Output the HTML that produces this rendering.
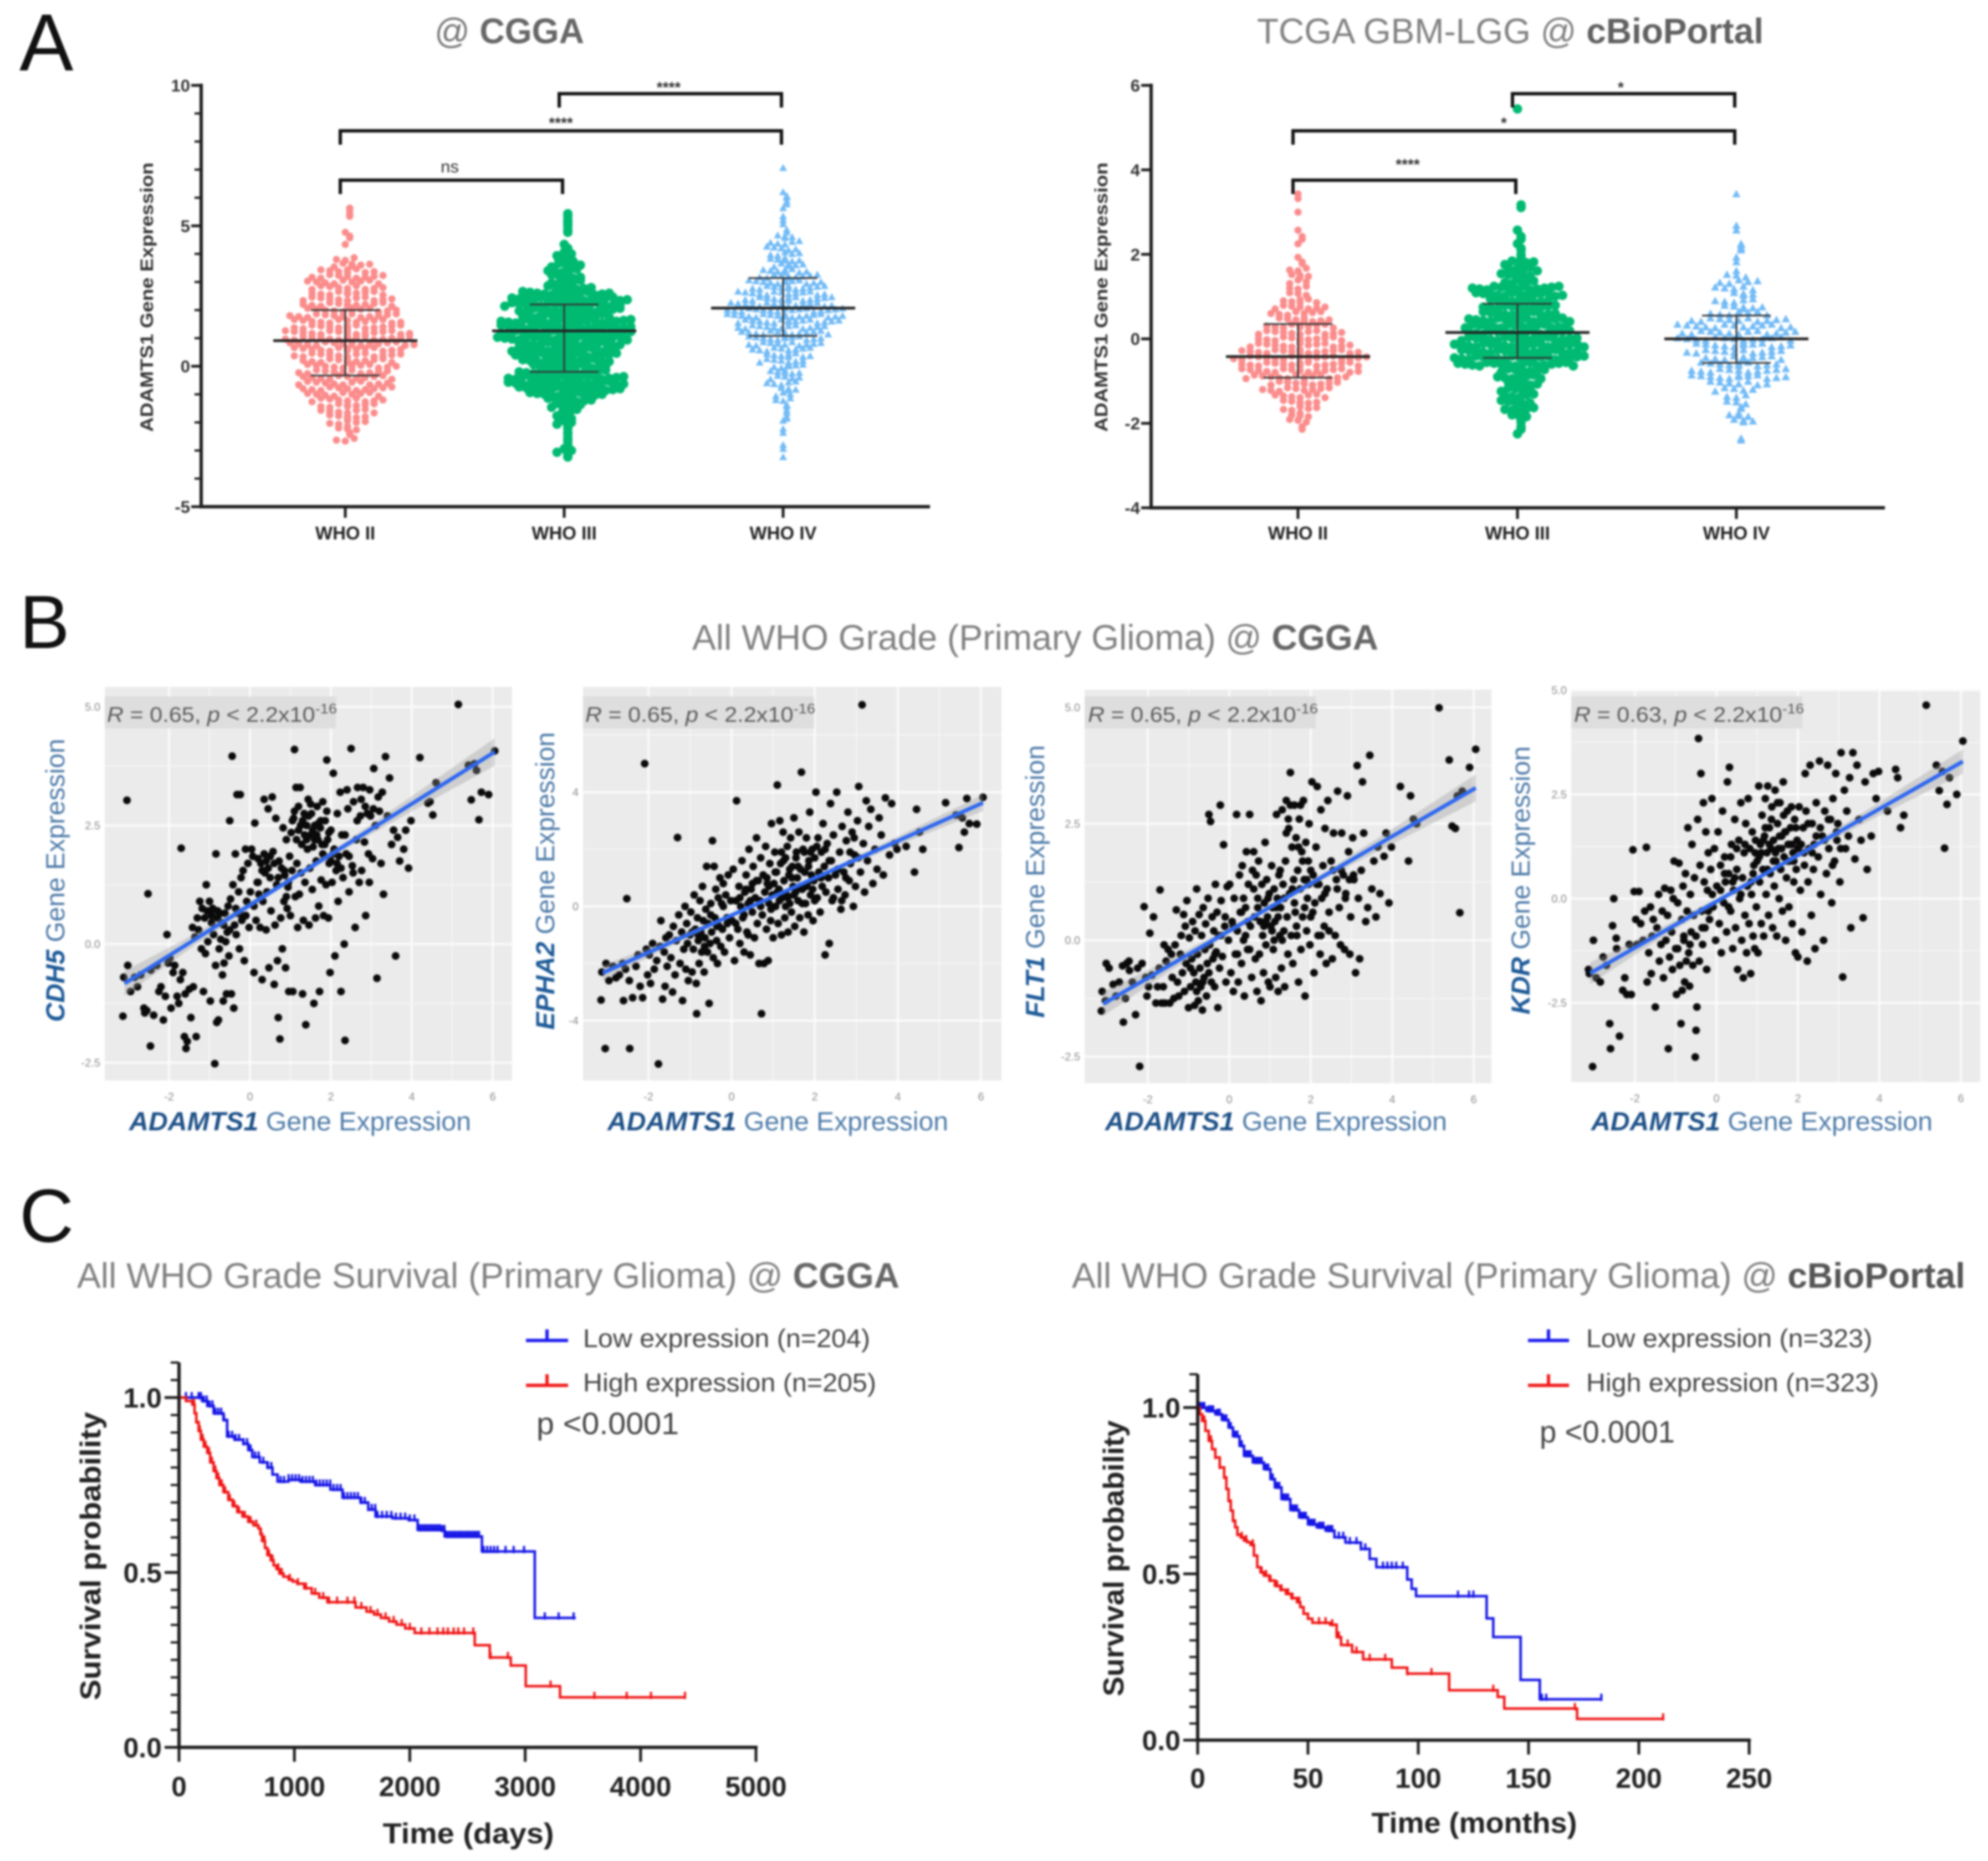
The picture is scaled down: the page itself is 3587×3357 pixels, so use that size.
<!DOCTYPE html>
<html lang="en">
<head>
<meta charset="utf-8">
<title>ADAMTS1 expression, correlation and survival in glioma</title>
<style>
html,body{margin:0;padding:0;background:#fff;width:3587px;height:3357px;overflow:hidden}
svg{display:block;filter:blur(1.8px)}
text{font-family:"Liberation Sans",sans-serif}
</style>
</head>
<body>
<svg id="figure" xmlns="http://www.w3.org/2000/svg" width="3587" height="3357" viewBox="0 0 3587 3357">
<rect width="3587" height="3357" fill="#fff"/>
<text x="35" y="127" font-size="146" fill="#111">A</text>
<text x="35" y="1169" font-size="136" fill="#111">B</text>
<text x="35" y="2240" font-size="136" fill="#111">C</text>

<text x="784" y="78" font-size="64" fill="#777" textLength="270" lengthAdjust="spacingAndGlyphs">@ <tspan font-weight="bold" fill="#666">CGGA</tspan></text>
<text x="2268" y="78" font-size="64" fill="#808080" textLength="914" lengthAdjust="spacingAndGlyphs">TCGA GBM-LGG @ <tspan font-weight="bold" fill="#606060">cBioPortal</tspan></text>
<text x="1249" y="1172" font-size="64" fill="#808080" textLength="1238" lengthAdjust="spacingAndGlyphs">All WHO Grade (Primary Glioma) @ <tspan font-weight="bold" fill="#666">CGGA</tspan></text>
<text x="139" y="2323" font-size="64" fill="#808080" textLength="1484" lengthAdjust="spacingAndGlyphs">All WHO Grade Survival (Primary Glioma) @ <tspan font-weight="bold" fill="#666">CGGA</tspan></text>
<text x="1934" y="2323" font-size="64" fill="#808080" textLength="1612" lengthAdjust="spacingAndGlyphs">All WHO Grade Survival (Primary Glioma) @ <tspan font-weight="bold" fill="#555">cBioPortal</tspan></text>

<text transform="translate(276 536) rotate(-90)" text-anchor="middle" font-size="32" font-weight="bold" fill="#333" textLength="486" lengthAdjust="spacingAndGlyphs">ADAMTS1 Gene Expression</text>
<text transform="translate(1998 536) rotate(-90)" text-anchor="middle" font-size="32" font-weight="bold" fill="#333" textLength="486" lengthAdjust="spacingAndGlyphs">ADAMTS1 Gene Expression</text>

<text transform="translate(116 1588) rotate(-90)" text-anchor="middle" font-size="47" fill="#4d7aa8" textLength="511" lengthAdjust="spacingAndGlyphs"><tspan font-weight="bold" font-style="italic" fill="#1d5a98">CDH5</tspan> Gene Expression</text>
<text transform="translate(1000 1589) rotate(-90)" text-anchor="middle" font-size="47" fill="#4d7aa8" textLength="537" lengthAdjust="spacingAndGlyphs"><tspan font-weight="bold" font-style="italic" fill="#1d5a98">EPHA2</tspan> Gene Expression</text>
<text transform="translate(1884 1590) rotate(-90)" text-anchor="middle" font-size="47" fill="#4d7aa8" textLength="492" lengthAdjust="spacingAndGlyphs"><tspan font-weight="bold" font-style="italic" fill="#1d5a98">FLT1</tspan> Gene Expression</text>
<text transform="translate(2760 1588) rotate(-90)" text-anchor="middle" font-size="47" fill="#4d7aa8" textLength="484" lengthAdjust="spacingAndGlyphs"><tspan font-weight="bold" font-style="italic" fill="#1d5a98">KDR</tspan> Gene Expression</text>

<text x="233" y="2039" font-size="47" fill="#4d7aa8" textLength="617" lengthAdjust="spacingAndGlyphs"><tspan font-weight="bold" font-style="italic" fill="#1d5088">ADAMTS1</tspan> Gene Expression</text>
<text x="1096" y="2039" font-size="47" fill="#4d7aa8" textLength="615" lengthAdjust="spacingAndGlyphs"><tspan font-weight="bold" font-style="italic" fill="#1d5088">ADAMTS1</tspan> Gene Expression</text>
<text x="1994" y="2039" font-size="47" fill="#4d7aa8" textLength="617" lengthAdjust="spacingAndGlyphs"><tspan font-weight="bold" font-style="italic" fill="#1d5088">ADAMTS1</tspan> Gene Expression</text>
<text x="2871" y="2039" font-size="47" fill="#4d7aa8" textLength="616" lengthAdjust="spacingAndGlyphs"><tspan font-weight="bold" font-style="italic" fill="#1d5088">ADAMTS1</tspan> Gene Expression</text>

<g id="swarmA"></g>
<g id="swarmB"></g>
<g id="scatterCDH5"></g>
<g id="scatterEPHA2"></g>
<g id="scatterFLT1"></g>
<g id="scatterKDR"></g>
<g id="survA"></g>
<g id="survB"></g>

<text x="193" y="1302" font-size="38" fill="#5a5a5a" textLength="415" lengthAdjust="spacingAndGlyphs"><tspan font-style="italic">R</tspan> = 0.65, <tspan font-style="italic">p</tspan> &lt; 2.2x10<tspan dy="-15" font-size="25">-16</tspan></text>
<text x="1056" y="1302" font-size="38" fill="#5a5a5a" textLength="415" lengthAdjust="spacingAndGlyphs"><tspan font-style="italic">R</tspan> = 0.65, <tspan font-style="italic">p</tspan> &lt; 2.2x10<tspan dy="-15" font-size="25">-16</tspan></text>
<text x="1963" y="1302" font-size="38" fill="#5a5a5a" textLength="415" lengthAdjust="spacingAndGlyphs"><tspan font-style="italic">R</tspan> = 0.65, <tspan font-style="italic">p</tspan> &lt; 2.2x10<tspan dy="-15" font-size="25">-16</tspan></text>
<text x="2840" y="1302" font-size="38" fill="#5a5a5a" textLength="415" lengthAdjust="spacingAndGlyphs"><tspan font-style="italic">R</tspan> = 0.63, <tspan font-style="italic">p</tspan> &lt; 2.2x10<tspan dy="-15" font-size="25">-16</tspan></text>

<g>
<path d="M949 2418H1025M987 2418V2398" stroke="#1a1aee" stroke-width="6" fill="none"/>
<path d="M949 2499H1025M987 2499V2479" stroke="#f01a1a" stroke-width="6" fill="none"/>
<text x="1052" y="2430" font-size="46" fill="#444" textLength="518" lengthAdjust="spacingAndGlyphs">Low expression (n=204)</text>
<text x="1052" y="2510" font-size="46" fill="#444" textLength="529" lengthAdjust="spacingAndGlyphs">High expression (n=205)</text>
<text x="968" y="2587" font-size="56" fill="#444" textLength="257" lengthAdjust="spacingAndGlyphs">p &lt;0.0001</text>
</g>
<g>
<path d="M2757 2418H2831M2794 2418V2398" stroke="#1a1aee" stroke-width="6" fill="none"/>
<path d="M2757 2499H2831M2794 2499V2479" stroke="#f01a1a" stroke-width="6" fill="none"/>
<text x="2862" y="2430" font-size="46" fill="#444" textLength="516" lengthAdjust="spacingAndGlyphs">Low expression (n=323)</text>
<text x="2862" y="2510" font-size="46" fill="#444" textLength="528" lengthAdjust="spacingAndGlyphs">High expression (n=323)</text>
<text x="2778" y="2602" font-size="56" fill="#444" textLength="244" lengthAdjust="spacingAndGlyphs">p &lt;0.0001</text>
</g>
</svg>

<script>
/* ---------- Panel A data: values read as rows of the dot swarm ---------- */
const whoGroups = ['WHO II', 'WHO III', 'WHO IV'];

const cggaTickLabels = [10, 5, 0, -5];
const cggaMinorTicks = [9, 8, 7, 6, 4, 3, 2, 1, -1, -2, -3, -4];
const cggaRowValues = [7, 6.8, 6.6, 6.4, 6.2, 6, 5.8, 5.6, 5.4, 5.2, 5, 4.8, 4.6, 4.4, 4.2, 4, 3.8, 3.6, 3.4, 3.2, 3, 2.8, 2.6, 2.4, 2.2, 2, 1.8, 1.6, 1.4, 1.2, 1, 0.8, 0.6, 0.4, 0.2, 0, -0.2, -0.4, -0.6, -0.8, -1, -1.2, -1.4, -1.6, -1.8, -2, -2.2, -2.4, -2.6, -2.8, -3, -3.2];
const cggaWho2Counts = [0, 0, 0, 0, 0, 0, 0, 2, 2, 0, 0, 1, 2, 1, 0, 0, 3, 6, 8, 9, 9, 9, 10, 11, 12, 12, 13, 13, 14, 15, 16, 16, 14, 13, 12, 12, 11, 11, 11, 11, 9, 9, 8, 7, 6, 5, 4, 2, 3, 0, 0, 0];
const cggaWho3Counts = [0, 0, 0, 0, 0, 0, 0, 0, 2, 2, 2, 2, 0, 1, 2, 3, 4, 5, 5, 5, 6, 8, 14, 18, 17, 16, 14, 19, 20, 19, 19, 16, 15, 15, 14, 12, 13, 17, 18, 16, 12, 8, 6, 4, 3, 3, 2, 2, 2, 2, 3, 2];
const cggaWho4Counts = [1, 0, 0, 0, 1, 2, 2, 1, 1, 1, 1, 2, 4, 5, 5, 5, 6, 6, 8, 10, 12, 12, 13, 14, 15, 17, 18, 16, 13, 13, 12, 11, 9, 8, 7, 6, 6, 5, 5, 4, 3, 3, 2, 2, 2, 1, 1, 1, 0, 1, 1, 1];
const cggaMeans = [0.91, 1.26, 2.07];
const cggaSdUpper = [2.0, 2.2, 3.14];
const cggaSdLower = [-0.33, -0.2, 1.08];
const cggaBrackets = [['WHO II', 'WHO III', 'ns'], ['WHO II', 'WHO IV', '****'], ['WHO III', 'WHO IV', '****']];

const tcgaTickLabels = [6, 4, 2, 0, -2, -4];
const tcgaRowValues = [5.4, 3.45, 3.3, 3.15, 3, 2.85, 2.7, 2.55, 2.4, 2.25, 2.1, 1.95, 1.8, 1.65, 1.5, 1.35, 1.2, 1.05, 0.9, 0.75, 0.6, 0.45, 0.3, 0.15, 0, -0.15, -0.3, -0.45, -0.6, -0.75, -0.9, -1.05, -1.2, -1.35, -1.5, -1.65, -1.8, -1.95, -2.1, -2.25, -2.4];
const tcgaWho2Counts = [0, 1, 1, 0, 1, 0, 0, 1, 2, 1, 0, 1, 2, 3, 4, 3, 3, 3, 6, 7, 7, 8, 10, 11, 12, 13, 16, 17, 16, 15, 13, 10, 9, 7, 6, 5, 4, 3, 2, 0, 0];
const tcgaWho3Counts = [1, 0, 0, 2, 0, 0, 0, 1, 2, 1, 2, 2, 6, 6, 5, 5, 13, 13, 10, 11, 12, 15, 15, 15, 18, 19, 18, 19, 17, 8, 8, 6, 5, 5, 5, 5, 4, 2, 2, 1, 0];
const tcgaWho4Counts = [0, 1, 0, 0, 0, 0, 1, 1, 0, 2, 2, 1, 1, 1, 3, 5, 5, 4, 5, 6, 8, 11, 13, 13, 13, 12, 11, 10, 10, 11, 12, 7, 5, 3, 3, 2, 4, 4, 0, 0, 2];
const tcgaMeans = [-0.42, 0.15, 0.0];
const tcgaSdUpper = [0.35, 0.83, 0.55];
const tcgaSdLower = [-0.92, -0.45, -0.57];
const tcgaBrackets = [['WHO II', 'WHO III', '****'], ['WHO II', 'WHO IV', '*'], ['WHO III', 'WHO IV', '*']];

/* ---------- Panel B data: ADAMTS1 (shared x) against four genes ---------- */
const adamts1Values = [
-3.14,-3.12,-3.04,-3.02,-2.95,-2.85,-2.78,-2.7,-2.62,-2.6,-2.55,-2.52,-2.46,-2.45,-2.38,-2.3,-2.25,-2.2,-2.14,-2.09,-2.05,-2.02,
-1.98,-1.95,-1.9,-1.86,-1.8,-1.76,-1.72,-1.7,-1.66,-1.62,-1.6,-1.58,-1.55,-1.5,-1.46,-1.42,-1.4,-1.36,-1.33,-1.3,-1.27,-1.24,-1.2,-1.18,-1.15,-1.12,-1.1,-1.08,-1.06,-1.04,
-1,-.98,-.95,-.92,-.9,-.87,-.85,-.84,-.82,-.8,-.78,-.76,-.74,-.72,-.7,-.68,-.66,-.64,-.62,-.6,-.58,-.56,-.54,-.52,-.5,-.48,-.46,-.44,-.42,-.4,-.38,-.36,-.34,-.32,-.3,-.28,-.26,-.24,-.22,-.2,-.17,-.14,-.11,-.08,-.05,-.02,
.01,.04,.07,.1,.12,.15,.18,.2,.22,.25,.27,.3,.32,.35,.37,.4,.42,.45,.47,.5,.52,.55,.57,.6,.62,.64,.66,.68,.7,.72,.74,.76,.78,.8,.82,.84,.86,.88,.9,.92,.94,.96,.98,
1,1.02,1.04,1.06,1.08,1.1,1.12,1.14,1.16,1.18,1.2,1.22,1.24,1.26,1.28,1.3,1.32,1.34,1.36,1.38,1.4,1.42,1.44,1.46,1.48,1.5,1.52,1.54,1.56,1.58,1.6,1.62,1.64,1.66,1.68,1.7,1.72,1.74,1.76,1.78,1.8,1.82,1.84,1.86,1.88,1.9,1.92,1.94,1.96,1.98,
2,2.03,2.06,2.08,2.1,2.13,2.16,2.18,2.2,2.23,2.25,2.27,2.3,2.33,2.35,2.38,2.4,2.42,2.45,2.5,2.53,2.56,2.6,2.63,2.66,2.7,2.73,2.76,2.8,2.83,2.86,2.9,2.93,2.96,2.98,
3.03,3.06,3.1,3.14,3.17,3.2,3.24,3.27,3.3,3.35,3.4,3.45,3.5,3.55,3.6,3.65,3.7,3.8,3.85,3.92,
3.98,4.2,4.4,4.45,4.52,4.6,
5.15,5.4,5.47,5.55,5.6,5.66,5.72,5.9,6.05,
.35,.45,.6,.7,.85,.95,1.05,1.15,1.25,1.35,1.45,1.55,1.65,1.75,1.85,1.95,2.05,2.15,2.25,2.35,2.45,2.55,1.1,1.2,1.3,1.4,1.5,1.6,1.7,1.8,1.9,2.0,.1,.2,.3,.4,.5,.9,-.1,-.2,-.35,-.5,-.65,-.8,-.95,2.65,2.75,2.85,2.95,3.05];
const cdh5Values = [
-1.52,-0.7,3.03,-0.45,-1.0,-0.7,-0.9,-0.65,-1.35,-1.45,-1.4,1.06,-2.15,-0.55,-1.5,-0.45,-1.0,-0.9,-1.6,-1.1,0.2,-0.4,
-0.3,-1.35,-0.6,-0.45,-1.1,-1.25,-0.75,2.02,-0.6,-1.95,-1.05,-2.2,-2.05,-0.95,-1.55,0.35,-0.9,0.15,-1.95,0.55,0.3,0.9,-0.1,0.75,-1.0,0.55,-0.2,1.25,0.7,0.05,
0.9,-1.2,0.6,0.75,0.2,-2.52,-0.45,1.9,-1.65,0.55,-1.6,-0.1,0.65,0.1,0.45,-0.65,-1.2,-0.4,0.65,0.05,-1.05,0.25,0.8,-0.25,2.6,0.95,-1.05,3.96,1.25,-1.35,0.4,1.9,0.2,3.15,0.65,1.1,-0.1,3.15,1.4,0.6,1.55,-0.35,2.0,0.9,1.7,0.35,
1.1,2.0,1.85,-0.6,2.55,0.5,1.3,1.8,1.05,0.35,1.7,-0.75,0.9,3.05,1.5,0.3,1.1,2.85,-0.5,1.4,0.7,3.1,1.95,-0.85,0.4,2.65,1.25,-0.35,-1.55,1.75,-2.0,0.55,1.6,-0.1,2.45,0.9,1.45,-0.5,2.2,0.75,1.2,-1.0,1.85,
0.6,2.35,1.55,-1.0,2.65,4.1,1.0,3.3,1.7,0.35,2.4,1.05,3.3,1.5,2.1,-1.05,0.5,2.75,1.3,-1.7,2.5,2.0,3.05,0.4,1.6,2.3,2.75,1.15,2.05,-1.25,2.5,0.55,1.75,2.9,2.2,0.8,-1.0,2.45,1.35,2.1,3.0,0.6,1.85,2.6,1.25,3.88,2.2,0.55,1.7,-0.6,
2.4,1.3,3.6,2.0,-0.25,1.55,2.75,0.9,1.85,3.2,-1.0,2.3,1.4,0.0,-2.03,1.9,3.25,2.85,1.1,4.12,1.65,3.0,0.35,2.2,3.3,1.3,2.7,1.55,3.3,2.15,0.6,2.75,1.9,3.25,2.7,
1.8,3.7,2.5,-0.72,3.1,2.8,1.7,3.2,1.05,3.95,2.7,3.5,2.1,2.4,-0.25,2.25,1.75,2.0,2.4,1.6,
2.6,3.93,2.97,3.0,2.72,3.4,
5.05,3.77,3.04,3.8,3.66,2.62,3.2,3.15,4.07,
1.9,1.6,1.7,1.4,1.55,1.3,2.6,2.2,2.5,2.3,2.7,2.4,2.3,2.6,2.1,2.35,1.9,1.7,1.6,2.3,1.85,1.5,2.8,2.9,2.6,2.2,2.95,2.2,2.55,1.9,2.8,1.75,0.8,1.3,1.55,1.75,1.85,1.0,0.6,0.5,0.75,0.3,0.4,0.7,0.45,2.6,3.05,2.9,1.3,2.85];
const epha2Values = [
-3.28,-2.3,-4.98,-2.0,-2.6,-2.1,-2.5,-2.4,-2.0,-3.3,-2.2,0.27,-2.6,-4.98,-3.2,-2.1,-1.7,-2.8,-3.2,5.0,-1.5,-2.4,
-1.7,-2.7,-1.3,-2.2,-1.9,-5.52,-1.4,-0.5,-3.25,-1.6,-2.8,-1.1,-2.1,-1.0,-1.8,-3.0,-0.7,-2.4,-1.2,2.41,-0.3,-2.0,-0.9,-3.3,-1.5,0.0,-2.2,-0.6,-1.3,-2.6,
-1.0,-0.2,-2.3,-1.5,0.4,-0.8,-2.7,-3.76,-0.4,-1.2,-2.0,0.2,-0.9,-1.6,0.7,-0.5,-2.3,-1.1,-0.1,1.4,-1.6,-0.6,-3.4,-1.3,0.1,-0.9,2.3,-1.8,1.4,-0.4,0.6,-1.2,-2.0,0.3,-0.7,1.0,-1.4,0.1,-0.8,0.8,-1.6,0.4,-0.4,1.1,-1.1,0.2,
-0.5,1.3,-1.9,0.2,3.7,-0.8,0.7,-1.3,0.0,1.6,-0.4,-1.6,0.5,1.1,-0.9,0.1,2.0,-1.7,0.6,-0.2,1.4,-1.1,0.3,2.4,-0.6,0.9,-2.0,0.2,1.7,-3.76,-0.3,1.1,-2.0,0.5,2.1,-0.8,0.8,-1.9,0.1,1.5,-0.5,2.9,0.4,
-1.1,0.8,1.9,0.0,1.2,4.25,-0.6,0.6,3.0,1.5,-1.0,0.3,2.6,0.9,-0.4,1.7,0.4,2.1,-0.9,1.1,0.1,2.4,-0.2,1.4,0.7,3.1,-0.7,0.5,1.9,1.0,0.2,2.6,-0.4,1.3,4.7,0.6,2.0,-0.9,1.2,0.1,2.4,0.8,-0.3,1.6,3.3,0.4,1.1,2.0,-0.5,0.9,
1.7,4.0,0.3,2.4,1.2,-0.2,1.9,0.7,2.9,1.4,-1.7,0.5,2.2,1.0,-1.3,3.6,1.6,0.2,2.5,1.1,4.0,0.6,1.9,-0.1,2.8,1.2,0.4,2.3,3.3,0.9,1.5,2.6,0.0,1.8,0.7,
3.0,4.2,1.2,7.06,2.2,0.5,3.7,1.6,2.8,3.4,0.8,2.0,1.3,3.1,2.5,1.1,3.8,1.8,3.6,2.2,
2.0,2.1,1.2,3.4,2.6,2.0,
3.63,3.2,2.06,3.1,2.6,3.78,2.9,2.88,3.82,
0.6,0.2,0.9,0.0,1.0,-0.1,1.2,0.2,1.6,0.3,1.0,1.7,0.7,1.9,1.4,0.6,2.1,1.0,2.0,1.6,0.3,1.3,0.5,1.9,0.0,1.3,0.4,1.4,0.1,0.7,1.9,0.2,-0.6,0.3,-0.3,-1.0,0.8,0.7,-0.6,0.0,-0.7,-0.3,-1.4,-1.0,-0.9,0.2,1.0,1.9,2.4,1.7];
const flt1Values = [
-1.52,-1.1,-1.3,-0.5,-0.6,-0.95,-1.2,-0.9,-0.55,-1.76,-1.25,-0.5,-0.45,-0.65,-0.9,-1.6,-0.6,-2.71,-0.5,0.72,-0.8,-1.2,
-1.0,0.15,-0.75,0.5,-1.35,-1.0,-0.6,1.08,-1.35,-1.0,-0.1,-1.35,-0.45,-0.2,-1.35,-0.3,-0.8,-1.25,-0.1,0.65,-0.9,-1.2,-0.3,0.1,-0.7,0.55,-1.1,0.3,-0.5,0.85,
-1.45,0.05,-1.0,-0.4,0.4,-0.7,-1.4,0.2,-0.9,1.1,-0.3,-1.3,0.55,-0.6,-1.0,0.1,-1.5,0.7,-0.8,-0.2,0.35,-1.2,-0.5,0.9,2.7,-0.1,2.55,-0.9,0.5,-0.4,0.2,-1.0,1.2,-0.25,0.6,-1.45,0.1,-0.6,2.9,0.85,-0.35,2.05,0.3,-0.9,1.15,0.0,
1.2,-0.7,0.4,-1.1,0.9,-0.3,2.7,0.2,-0.9,1.4,0.6,-0.5,1.6,0.0,-1.2,0.7,1.9,-0.2,1.2,2.7,0.3,-0.8,1.5,1.9,0.5,-0.4,1.4,-1.1,0.9,1.7,-0.3,0.4,-1.3,1.2,0.1,-0.7,0.8,2.1,-0.1,1.3,0.5,-0.9,1.0,
-1.0,0.3,1.6,0.7,-0.2,1.1,0.4,-0.8,2.7,0.9,-1.1,1.4,0.1,0.7,-0.6,2.8,1.2,0.2,-1.0,1.7,3.0,0.5,-0.3,2.4,1.0,3.6,0.1,2.0,-0.5,1.3,2.9,0.6,2.2,0.1,1.5,-0.9,2.6,1.1,-0.2,1.9,0.5,3.0,1.3,-1.2,2.1,0.2,0.9,1.7,2.5,-0.1,
0.5,3.4,1.4,-0.7,0.8,2.0,3.3,0.1,1.2,-0.3,2.8,0.9,1.6,0.3,2.4,-0.5,1.1,3.0,0.2,1.7,-0.4,2.3,0.1,1.3,3.2,0.7,-0.1,2.3,1.4,-0.2,1.0,3.1,1.9,-0.3,0.5,
2.2,1.3,-0.7,3.75,0.9,-0.4,1.5,3.4,2.3,0.4,0.7,3.97,1.1,1.7,0.5,2.0,1.0,1.8,2.3,0.8,
2.0,3.3,1.7,3.1,2.6,2.5,
4.99,3.87,2.45,2.4,3.1,0.59,3.2,3.71,4.1,
0.9,0.4,1.1,0.7,0.3,0.9,0.2,0.7,1.5,0.9,2.6,1.1,0.3,2.9,0.7,1.2,0.6,1.2,0.1,1.0,0.6,1.5,0.0,0.5,0.0,2.3,2.9,0.8,2.0,1.7,1.3,1.5,0.3,-0.3,0.6,0.1,-0.2,0.4,0.5,0.1,-0.3,-0.7,-0.9,-1.1,-0.6,1.1,1.5,0.9,1.3,1.4];
const kdrValues = [
-1.7,-1.8,-4.03,-1.0,-1.9,-2.0,-1.4,-1.6,-3.0,-3.6,-0.65,0.0,-0.95,-1.2,-3.3,-2.2,-1.9,-2.3,-1.1,-2.3,1.17,0.17,
-0.5,-1.1,0.17,-0.6,-1.0,-0.3,1.23,-2.0,-1.3,-0.2,-1.8,-0.9,-0.5,-2.6,-0.7,0.1,-1.5,-1.1,-0.3,-1.9,0.25,-1.0,-0.4,-3.6,-1.4,0.2,-0.8,-1.7,0.0,0.9,
-1.2,-2.3,-0.1,0.85,-1.6,-3.0,-0.5,-2.2,0.3,-1.0,-2.0,0.6,-1.5,-0.3,1.7,-1.3,-2.1,0.1,-0.8,1.3,-1.6,-0.4,0.5,-3.8,-3.16,-2.6,1.9,3.84,-1.5,0.8,3.0,-0.3,-1.1,2.3,0.4,-0.7,1.6,-1.7,0.2,1.1,-0.5,0.7,2.4,-0.2,1.2,-1.0,
0.3,1.6,-0.6,0.8,-1.3,2.1,-0.1,1.0,0.4,-0.8,2.8,0.6,3.15,-0.3,1.3,-1.2,0.2,1.9,-0.7,0.7,-1.7,1.4,0.0,2.3,-1.0,0.5,-1.9,1.1,-0.4,1.8,-1.3,0.3,2.4,-0.6,1.2,-1.8,0.1,1.6,-0.9,0.8,-1.2,1.4,-0.2,
0.9,-1.3,2.7,0.4,1.3,-0.6,2.0,0.7,-0.9,1.5,2.4,0.1,1.1,2.7,-0.4,1.7,0.6,1.2,2.2,-0.7,1.4,0.3,2.6,0.9,-0.9,1.8,1.2,0.0,2.3,0.7,1.5,-0.3,2.8,1.0,1.6,-1.0,0.5,2.1,1.3,-0.2,0.9,1.7,2.2,-0.6,1.1,0.4,1.9,-1.3,0.7,1.4,
-1.4,2.2,0.2,1.3,-0.8,1.7,0.8,3.0,2.1,-1.5,0.4,1.2,3.2,-0.4,1.8,0.7,1.3,-1.2,2.3,1.0,3.3,0.1,1.5,-1.0,2.1,0.6,3.2,1.2,1.9,-0.1,2.4,0.9,3.0,1.4,1.8,
0.4,3.5,-1.88,2.6,1.2,2.1,1.5,2.9,-0.7,3.5,0.95,3.2,1.9,1.4,-0.46,2.8,0.7,1.5,3.0,2.4,
3.05,2.1,3.1,2.9,1.7,2.0,
4.64,3.2,2.59,3.05,1.21,2.26,2.9,2.5,3.78,
1.0,0.5,0.1,1.3,0.4,1.1,1.0,1.4,0.7,1.9,1.1,1.5,2.0,0.9,1.3,1.7,1.3,1.1,1.8,1.1,1.5,1.7,1.1,1.7,1.3,0.9,2.3,1.2,1.6,1.3,0.9,1.2,0.2,0.6,-0.2,0.4,1.2,0.6,0.1,-0.3,-0.7,-0.9,-1.1,-0.9,-1.2,1.4,1.9,0.8,1.6,1.2];

/* Fitted regression line end values and confidence half-widths */
const adamts1FitEnds = [-3.1, 6.05];
const cdh5FitEnds = [-0.83, 4.05];
const epha2FitEnds = [-2.33, 3.63];
const flt1FitEnds = [-1.37, 3.27];
const kdrFitEnds = [-1.79, 3.29];
const bandAt = [-3.1, -1.5, 0, 1.2, 2.5, 4, 6.05];
const bandHalfWidth = [0.26, 0.13, 0.07, 0.06, 0.08, 0.16, 0.29];

const scatterXTicks = [-2, 0, 2, 4, 6];
const cdh5YTicks = ['5.0', '2.5', '0.0', '-2.5'];
const epha2YTicks = ['4', '0', '-4'];
const flt1YTicks = ['5.0', '2.5', '0.0', '-2.5'];
const kdrYTicks = ['5.0', '2.5', '0.0', '-2.5'];

/* ---------- Panel C data: Kaplan-Meier steps and censor marks ---------- */
const survivalYTicks = ['0.0', '0.5', '1.0'];
const survivalMinorTicks = [0.05, 0.1, 0.15, 0.2, 0.25, 0.3, 0.35, 0.4, 0.45, 0.55, 0.6, 0.65, 0.7, 0.75, 0.8, 0.85, 0.9, 0.95, 1.05, 1.1];

const cggaXTicks = [0, 1000, 2000, 3000, 4000, 5000];
const cggaLowTimes = [0, 90, 167, 200, 245, 300, 385, 417, 480, 557, 600, 635, 700, 766, 810, 854, 950, 1052, 1180, 1312, 1417, 1573, 1640, 1703, 1850, 1990, 2068, 2276, 2302, 2615, 2625, 3083, 3438];
const cggaLowSurv = [1, 1, 1, 0.99, 0.976, 0.955, 0.936, 0.889, 0.88, 0.868, 0.85, 0.83, 0.815, 0.8, 0.78, 0.76, 0.765, 0.76, 0.75, 0.737, 0.714, 0.7, 0.68, 0.66, 0.655, 0.65, 0.622, 0.62, 0.603, 0.603, 0.56, 0.37, 0.37];
const cggaLowCensored = [60, 110, 170, 190, 215, 240, 265, 290, 315, 340, 365, 390, 430, 460, 490, 520, 560, 590, 620, 660, 690, 730, 770, 800, 880, 910, 950, 980, 1010, 1040, 1070, 1100, 1130, 1160, 1190, 1220, 1250, 1280, 1310, 1340, 1370, 1400, 1430, 1460, 1490, 1520, 1550, 1580, 1610, 1640, 1670, 1700, 1720, 1760, 1800, 1840, 1880, 1920, 1960, 2000, 2040, 2080, 2100, 2120, 2140, 2160, 2180, 2200, 2220, 2240, 2260, 2280, 2300, 2320, 2340, 2360, 2380, 2400, 2420, 2440, 2460, 2480, 2500, 2520, 2540, 2560, 2580, 2600, 2640, 2670, 2700, 2730, 2760, 2830, 2900, 2990, 3170, 3290, 3420];
const cggaHighTimes = [0, 60, 115, 135, 150, 170, 190, 215, 245, 270, 300, 325, 350, 385, 427, 465, 505, 550, 600, 645, 688, 705, 720, 745, 766, 795, 820, 845, 870, 905, 950, 985, 1026, 1085, 1150, 1215, 1286, 1443, 1530, 1625, 1690, 1750, 1820, 1885, 1960, 2042, 2484, 2563, 2693, 2823, 2875, 2979, 3005, 3292, 3302, 4385];
const cggaHighSurv = [1, 0.99, 0.98, 0.955, 0.93, 0.905, 0.88, 0.86, 0.842, 0.815, 0.79, 0.77, 0.75, 0.73, 0.708, 0.69, 0.673, 0.66, 0.645, 0.635, 0.626, 0.61, 0.59, 0.57, 0.55, 0.535, 0.52, 0.51, 0.497, 0.488, 0.48, 0.474, 0.468, 0.455, 0.44, 0.428, 0.415, 0.415, 0.4, 0.388, 0.38, 0.37, 0.36, 0.351, 0.34, 0.327, 0.327, 0.292, 0.257, 0.257, 0.234, 0.234, 0.175, 0.175, 0.143, 0.143];
const cggaHighCensored = [130, 150, 180, 205, 230, 260, 285, 315, 340, 370, 400, 440, 480, 520, 570, 620, 670, 710, 740, 780, 810, 860, 890, 960, 1030, 1100, 1180, 1250, 1300, 1370, 1460, 1520, 1580, 1660, 1720, 1790, 1860, 1930, 2000, 2100, 2170, 2240, 2290, 2330, 2380, 2420, 2470, 2550, 2700, 2850, 3220, 3600, 3880, 4090, 4385];

const cbioXTicks = [0, 50, 100, 150, 200, 250];
const cbioLowTimes = [0, 4, 8, 11, 14, 16, 19, 21, 25, 30, 33, 35, 38, 42, 46, 50, 54, 58, 62, 67, 74, 78, 81, 91, 95, 97, 99, 130, 131, 134, 146, 146.4, 155, 155.1, 183];
const cbioLowSurv = [1, 0.99, 0.98, 0.963, 0.94, 0.914, 0.885, 0.855, 0.835, 0.815, 0.785, 0.76, 0.725, 0.692, 0.67, 0.649, 0.64, 0.63, 0.61, 0.594, 0.575, 0.545, 0.52, 0.52, 0.483, 0.455, 0.433, 0.433, 0.366, 0.31, 0.31, 0.181, 0.181, 0.123, 0.123];
const cbioLowCensored = [1, 2, 3, 5, 6, 7, 9, 10, 12, 13, 15, 17, 18, 20, 22, 23, 24, 26, 27, 28, 29, 31, 32, 34, 36, 37, 39, 40, 41, 43, 44, 45, 47, 48, 49, 51, 52, 53, 55, 56, 57, 59, 60, 61, 64, 66, 69, 72, 74, 76, 84, 86, 88, 90, 93, 118, 123, 125, 156, 158, 183];
const cbioHighTimes = [0, 1, 2, 3.5, 5, 6.5, 8, 10, 12, 13, 14, 15, 16, 17, 18, 19.5, 21, 22.5, 24, 25.5, 27, 28.5, 30, 32.5, 35, 37.5, 40, 42.5, 45, 46.5, 48, 50, 52, 60, 63, 65, 70, 75, 85, 88, 95, 107, 114, 133, 136, 139, 170, 172, 211.5];
const cbioHighSurv = [1, 0.98, 0.96, 0.93, 0.9, 0.875, 0.85, 0.82, 0.79, 0.755, 0.72, 0.69, 0.66, 0.64, 0.618, 0.61, 0.6, 0.595, 0.587, 0.555, 0.52, 0.505, 0.495, 0.48, 0.464, 0.452, 0.44, 0.427, 0.415, 0.4, 0.38, 0.365, 0.353, 0.347, 0.31, 0.286, 0.265, 0.243, 0.243, 0.218, 0.2, 0.2, 0.15, 0.15, 0.13, 0.095, 0.095, 0.064, 0.064];
const cbioHighCensored = [3, 6, 8, 10, 12, 14, 16, 18, 20, 22, 25, 29, 31, 33, 36, 38, 41, 43, 46, 55, 58, 61, 64, 68, 72, 78, 85, 95, 106, 134, 171, 211];

/* ---------- Drawing ---------- */
const NS = 'http://www.w3.org/2000/svg';
function make(parent, tag, attrs, content) {
  const e = document.createElementNS(NS, tag);
  for (const k in attrs) e.setAttribute(k, attrs[k]);
  if (content !== undefined) e.textContent = content;
  parent.appendChild(e);
  return e;
}
function linear(d0, d1, r0, r1) {
  return v => r0 + (v - d0) * (r1 - r0) / (d1 - d0);
}

function drawSwarmChart(root, cfg) {
  const y = linear(cfg.yDomain[0], cfg.yDomain[1], cfg.yRange[0], cfg.yRange[1]);
  const catX = name => cfg.centers[cfg.groups.indexOf(name)];
  const ink = '#1c1c1c';

  cfg.series.forEach((s, gi) => {
    const group = make(root, 'g', {});
    
    
    cfg.rows.forEach((v, ri) => {
      const n = s.counts[ri];
      for (let k = 0; k < n; k++) {
        const step = Math.ceil(k / 2) * (k % 2 ? 1 : -1);
        const shift = n % 2 ? 0 : (k % 2 ? -0.5 : 0.5);
        const px = cfg.centers[gi] + (step + shift) * s.spacing + (ri % 2 ? s.spacing * 0.25 : -s.spacing * 0.25) * (n > 3 ? 1 : 0);
        const py = y(v) + ((k * 7 + ri * 3) % 5 - 2) * 1.6;
        let m;
        if (s.shape === 'triangle') {
          const r = s.size;
          m = make(group, 'polygon', { points: px + ',' + (py - r) + ' ' + (px + r) + ',' + (py + r * 0.8) + ' ' + (px - r) + ',' + (py + r * 0.8), fill: s.color });
        } else {
          m = make(group, 'circle', { cx: px, cy: py, r: s.size, fill: s.color });
        }
        
        
      }
    });
  });

  cfg.groups.forEach((name, gi) => {
    const cx = cfg.centers[gi];
    const err = make(root, 'path', {
      d: 'M' + (cx - 62) + ' ' + y(cfg.upper[gi]) + 'H' + (cx + 62) +
         'M' + (cx - 62) + ' ' + y(cfg.lower[gi]) + 'H' + (cx + 62) +
         'M' + cx + ' ' + y(cfg.upper[gi]) + 'V' + y(cfg.lower[gi]),
      stroke: '#333', 'stroke-width': 3, fill: 'none'
    });
    
    
    const meanLine = make(root, 'line', { x1: cx - 130, x2: cx + 130, y1: y(cfg.means[gi]), y2: y(cfg.means[gi]), stroke: '#222', 'stroke-width': 5 });
    
    
  });

  const yAxis = make(root, 'line', { x1: cfg.axisX, x2: cfg.axisX, y1: y(cfg.yDomain[1]) - 3, y2: y(cfg.yDomain[0]) + 3, stroke: ink, 'stroke-width': 6 });
  
  
  const xAxis = make(root, 'line', { x1: cfg.axisX - 3, x2: cfg.axisEnd, y1: y(cfg.yDomain[0]), y2: y(cfg.yDomain[0]), stroke: ink, 'stroke-width': 6 });
  
  

  cfg.ticks.forEach(v => {
    const t = make(root, 'line', { x1: cfg.axisX - 18, x2: cfg.axisX, y1: y(v), y2: y(v), stroke: ink, 'stroke-width': 5 });
    
    
    const label = make(root, 'text', { x: cfg.axisX - 20, y: y(v) + 11, 'text-anchor': 'end', 'font-size': 31, 'font-weight': 'bold', fill: '#333' }, String(v));
    
    
  });
  cfg.minor.forEach(v => {
    const t = make(root, 'line', { x1: cfg.axisX - 12, x2: cfg.axisX, y1: y(v), y2: y(v), stroke: ink, 'stroke-width': 4 });
    
    
  });
  cfg.groups.forEach((name, gi) => {
    const cx = cfg.centers[gi];
    const t = make(root, 'line', { x1: cx, x2: cx, y1: y(cfg.yDomain[0]), y2: y(cfg.yDomain[0]) + 20, stroke: ink, 'stroke-width': 5 });
    
    
    const label = make(root, 'text', { x: cx, y: 973, 'text-anchor': 'middle', 'font-size': 33, 'font-weight': 'bold', fill: '#222' }, name);
    
    
  });

  cfg.brackets.forEach((b, i) => {
    const x1 = catX(b[0]) - 9, x2 = catX(b[1]) - 3;
    const top = cfg.bracketY[i];
    const br = make(root, 'path', { d: 'M' + x1 + ' ' + (top + 25) + 'V' + top + 'H' + x2 + 'V' + (top + 25), stroke: '#111', 'stroke-width': 6, fill: 'none' });
    
    
    const mid = (x1 + x2) / 2 + cfg.bracketLabelDx[i];
    const label = make(root, 'text', { x: mid, y: top + cfg.bracketLabelDy[i], 'text-anchor': 'middle', 'font-size': b[2] === 'ns' ? 31 : 28, 'font-weight': b[2] === 'ns' ? 'normal' : 'bold', fill: '#333' }, b[2]);
    
    
  });
}

drawSwarmChart(document.getElementById('swarmA'), {
  groups: whoGroups, centers: [623, 1018, 1413], rows: cggaRowValues,
  yDomain: [-5, 10], yRange: [914, 154], axisX: 363, axisEnd: 1678,
  ticks: cggaTickLabels, minor: cggaMinorTicks,
  means: cggaMeans, upper: cggaSdUpper, lower: cggaSdLower,
  brackets: cggaBrackets, bracketY: [325, 236, 169], bracketLabelDy: [-14, -5, -2], bracketLabelDx: [-3, 0, -3],
  series: [
    { counts: cggaWho2Counts, color: '#fb8c8c', shape: 'circle', size: 6.5, spacing: 16 },
    { counts: cggaWho3Counts, color: '#00ba72', shape: 'circle', size: 8.5, spacing: 13 },
    { counts: cggaWho4Counts, color: '#72bbf6', shape: 'triangle', size: 7, spacing: 13 }
  ]
});
drawSwarmChart(document.getElementById('swarmB'), {
  groups: whoGroups, centers: [2342, 2738, 3133], rows: tcgaRowValues,
  yDomain: [-4, 6], yRange: [916, 154], axisX: 2077, axisEnd: 3401,
  ticks: tcgaTickLabels, minor: [],
  means: tcgaMeans, upper: tcgaSdUpper, lower: tcgaSdLower,
  brackets: tcgaBrackets, bracketY: [325, 236, 169], bracketLabelDy: [-19, -5, -2], bracketLabelDx: [6, -18, -5],
  series: [
    { counts: tcgaWho2Counts, color: '#fb8c8c', shape: 'circle', size: 6.5, spacing: 15 },
    { counts: tcgaWho3Counts, color: '#00ba72', shape: 'circle', size: 8.5, spacing: 13 },
    { counts: tcgaWho4Counts, color: '#72bbf6', shape: 'triangle', size: 7.5, spacing: 17 }
  ]
});

function drawScatter(root, cfg) {
  const x = linear(0, 2, cfg.x0, cfg.x2);
  const y = linear(0, cfg.yUnit, cfg.y0, cfg.yAtUnit);
  const bg = make(root, 'rect', { x: cfg.left, y: cfg.top, width: cfg.right - cfg.left, height: cfg.bottom - cfg.top, fill: '#ebebeb' });
  
  

  cfg.xTicks.forEach(v => {
    const minorPos = x(v + 1);
    if (minorPos < cfg.right) {
      const g = make(root, 'line', { x1: minorPos, x2: minorPos, y1: cfg.top, y2: cfg.bottom, stroke: '#f6f6f6', 'stroke-width': 2 });
      
      
    }
    const g = make(root, 'line', { x1: x(v), x2: x(v), y1: cfg.top, y2: cfg.bottom, stroke: '#fbfbfb', 'stroke-width': 4 });
    
    
    const label = make(root, 'text', { x: x(v), y: cfg.bottom + 36, 'text-anchor': 'middle', 'font-size': 20, fill: '#8a8a8a' }, String(v));
    
    
  });
  cfg.yTicks.forEach(t => {
    const v = parseFloat(t);
    const g = make(root, 'line', { x1: cfg.left, x2: cfg.right, y1: y(v), y2: y(v), stroke: '#fbfbfb', 'stroke-width': 4 });
    
    
    const minorY = y(v + cfg.yStep / 2);
    if (minorY > cfg.top && minorY < cfg.bottom) {
      const m = make(root, 'line', { x1: cfg.left, x2: cfg.right, y1: minorY, y2: minorY, stroke: '#f6f6f6', 'stroke-width': 2 });
      
      
    }
    const label = make(root, 'text', { x: cfg.left - 8, y: y(v) + 7, 'text-anchor': 'end', 'font-size': 20, fill: '#8a8a8a' }, t);
    
    
  });

  const statBox = make(root, 'rect', { x: cfg.left, y: 1256, width: 417, height: 58, fill: '#dedede' });
  
  

  adamts1Values.forEach((xv, i) => {
    if (cfg.values[i] === undefined) return;
    const dot = make(root, 'circle', { cx: x(xv), cy: y(cfg.values[i]), r: 7, fill: '#0a0a0a' });
    
    
  });

  const slope = (cfg.fit[1] - cfg.fit[0]) / (adamts1FitEnds[1] - adamts1FitEnds[0]);
  const fitAt = v => cfg.fit[0] + (v - adamts1FitEnds[0]) * slope;
  const upper = bandAt.map((v, i) => x(v) + ',' + y(fitAt(v) + bandHalfWidth[i]));
  const lower = bandAt.map((v, i) => x(v) + ',' + y(fitAt(v) - bandHalfWidth[i])).reverse();
  const band = make(root, 'polygon', { points: upper.concat(lower).join(' '), fill: '#999', opacity: 0.35 });
  
  
  const fit = make(root, 'line', { x1: x(adamts1FitEnds[0]), y1: y(cfg.fit[0]), x2: x(adamts1FitEnds[1]), y2: y(cfg.fit[1]), stroke: '#2f68f0', 'stroke-width': 7 });
  
  
}

drawScatter(document.getElementById('scatterCDH5'), { left: 189, right: 924, top: 1239, bottom: 1949, x0: 451, x2: 597, yUnit: 2.5, y0: 1703, yAtUnit: 1489, yStep: 2.5, xTicks: scatterXTicks, yTicks: cdh5YTicks, values: cdh5Values, fit: cdh5FitEnds });
drawScatter(document.getElementById('scatterEPHA2'), { left: 1052, right: 1807, top: 1239, bottom: 1949, x0: 1320, x2: 1470, yUnit: 4, y0: 1635, yAtUnit: 1429, yStep: 4, xTicks: scatterXTicks, yTicks: epha2YTicks, values: epha2Values, fit: epha2FitEnds });
drawScatter(document.getElementById('scatterFLT1'), { left: 1957, right: 2691, top: 1244, bottom: 1954, x0: 2218, x2: 2365, yUnit: 2.5, y0: 1696, yAtUnit: 1486, yStep: 2.5, xTicks: scatterXTicks, yTicks: flt1YTicks, values: flt1Values, fit: flt1FitEnds });
drawScatter(document.getElementById('scatterKDR'), { left: 2835, right: 3573, top: 1244, bottom: 1952, x0: 3097, x2: 3244, yUnit: 2.5, y0: 1621, yAtUnit: 1433, yStep: 2.5, xTicks: scatterXTicks, yTicks: kdrYTicks, values: kdrValues, fit: kdrFitEnds });

function drawSurvival(root, cfg) {
  const x = linear(0, cfg.xMax, cfg.left, cfg.right);
  const y = linear(0, 1, cfg.y0, cfg.y1);
  const ink = '#1c1c1c';

  cfg.curves.forEach(c => {
    let d = 'M' + x(c.times[0]) + ' ' + y(c.surv[0]);
    c.times.forEach((t, i) => {
      if (i === 0) return;
      d += 'H' + x(t) + 'V' + y(c.surv[i]);
    });
    const curve = make(root, 'path', { d: d, stroke: c.color, 'stroke-width': 4.5, fill: 'none' });
    
    
    c.censored.forEach(t => {
      let s = c.surv[0];
      c.times.forEach((tt, i) => { if (tt <= t) s = c.surv[i]; });
      const tick = make(root, 'line', { x1: x(t), x2: x(t), y1: y(s) - 10, y2: y(s) + 3, stroke: c.color, 'stroke-width': 4 });
      
      
    });
  });

  const yAxis = make(root, 'line', { x1: cfg.left, x2: cfg.left, y1: y(1.1), y2: y(0) + 3, stroke: ink, 'stroke-width': 6 });
  
  
  const xAxis = make(root, 'line', { x1: cfg.left - 3, x2: cfg.right + 3, y1: y(0), y2: y(0), stroke: ink, 'stroke-width': 6 });
  
  

  survivalMinorTicks.forEach(v => {
    const t = make(root, 'line', { x1: cfg.left - 15, x2: cfg.left, y1: y(v), y2: y(v), stroke: ink, 'stroke-width': 4 });
    
    
  });
  survivalYTicks.forEach(v => {
    const t = make(root, 'line', { x1: cfg.left - 26, x2: cfg.left, y1: y(parseFloat(v)), y2: y(parseFloat(v)), stroke: ink, 'stroke-width': 5 });
    
    
    const label = make(root, 'text', { x: cfg.left - 31, y: y(parseFloat(v)) + 18, 'text-anchor': 'end', 'font-size': 50, 'font-weight': 'bold', fill: '#222' }, v);
    
    
  });
  cfg.xTicks.forEach(v => {
    const t = make(root, 'line', { x1: x(v), x2: x(v), y1: y(0), y2: y(0) + 26, stroke: ink, 'stroke-width': 5 });
    
    
    const label = make(root, 'text', { x: x(v), y: cfg.xLabelY, 'text-anchor': 'middle', 'font-size': 50, 'font-weight': 'bold', fill: '#222' }, String(v));
    
    
  });

  const xt = make(root, 'text', { x: cfg.xTitleX, y: cfg.xTitleY, 'text-anchor': 'middle', 'font-size': 52, 'font-weight': 'bold', fill: '#222', textLength: cfg.xTitleLen, lengthAdjust: 'spacingAndGlyphs' }, cfg.xTitle);
  
  
  const yt = make(root, 'text', { transform: 'translate(' + cfg.yTitleX + ' ' + cfg.yTitleY + ') rotate(-90)', 'text-anchor': 'middle', 'font-size': 52, 'font-weight': 'bold', fill: '#222', textLength: cfg.yTitleLen, lengthAdjust: 'spacingAndGlyphs' }, 'Survival probability');
  
  
}

drawSurvival(document.getElementById('survA'), {
  left: 323, right: 1364, xMax: 5000, y0: 3152, y1: 2521, xTicks: cggaXTicks, xLabelY: 3240,
  xTitle: 'Time (days)', xTitleX: 845, xTitleY: 3325, xTitleLen: 309, yTitleX: 181, yTitleY: 2807, yTitleLen: 520,
  curves: [
    { name: 'low-expression', color: '#1414e6', times: cggaLowTimes, surv: cggaLowSurv, censored: cggaLowCensored },
    { name: 'high-expression', color: '#f01414', times: cggaHighTimes, surv: cggaHighSurv, censored: cggaHighCensored }
  ]
});
drawSurvival(document.getElementById('survB'), {
  left: 2161, right: 3156, xMax: 250, y0: 3139, y1: 2539, xTicks: cbioXTicks, xLabelY: 3225,
  xTitle: 'Time (months)', xTitleX: 2660, xTitleY: 3306, xTitleLen: 371, yTitleX: 2027, yTitleY: 2811, yTitleLen: 498,
  curves: [
    { name: 'low-expression', color: '#1414e6', times: cbioLowTimes, surv: cbioLowSurv, censored: cbioLowCensored },
    { name: 'high-expression', color: '#f01414', times: cbioHighTimes, surv: cbioHighSurv, censored: cbioHighCensored }
  ]
});
</script>
</body>
</html>
